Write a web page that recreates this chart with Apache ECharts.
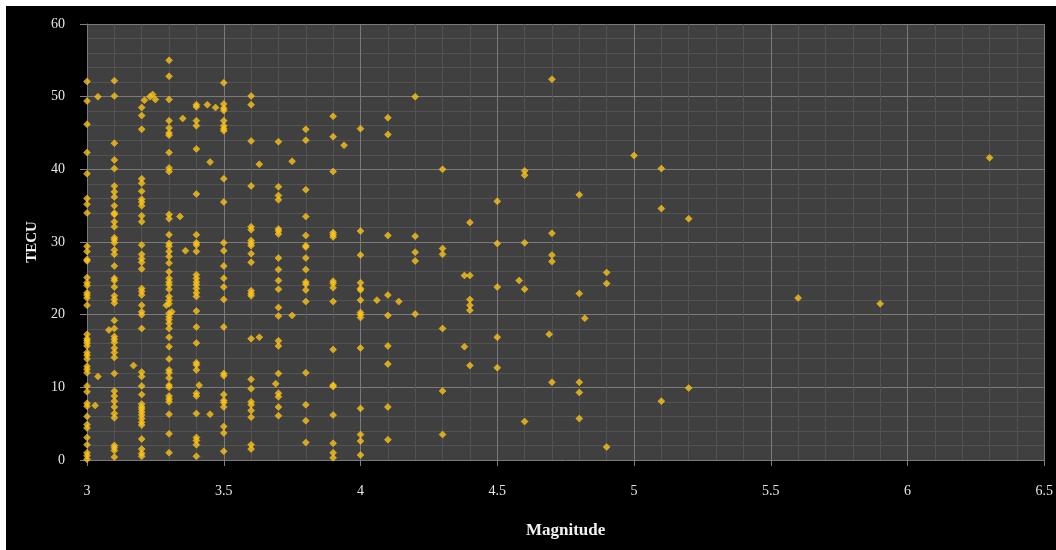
<!DOCTYPE html>
<html>
<head>
<meta charset="utf-8">
<script src="https://cdn.jsdelivr.net/npm/echarts@6/dist/echarts.min.js"></script>
<style>
  html, body { margin: 0; padding: 0; background: #ffffff; overflow: hidden; }
  #chart { position: absolute; left: 6px; top: 6px; width: 1050px; height: 544px; background: #000000; }
</style>
</head>
<body>
<div id="chart"></div>
<script>
// Earthquake magnitude (x) and the matching TEC values (y), grouped by magnitude
const magnitudes = [
  3.0, 3.03, 3.04, 3.08, 3.1, 3.17, 3.2, 3.21, 3.23, 3.24, 3.25, 3.29, 3.3, 3.31,
  3.34, 3.35, 3.36, 3.4, 3.41, 3.44, 3.45, 3.47, 3.5, 3.6, 3.63, 3.69, 3.7, 3.75,
  3.8, 3.9, 3.94, 4.0, 4.06, 4.1, 4.14, 4.2, 4.3, 4.38, 4.4, 4.5, 4.58, 4.6, 4.69,
  4.7, 4.8, 4.82, 4.9, 5.0, 5.1, 5.2, 5.6, 5.9, 6.3
];

const tecuByMagnitude = [
  [52.1, 49.4, 46.2, 42.3, 39.4, 36.0, 35.2, 34.0, 29.4, 28.7, 27.6, 27.4, 25.1, 24.4, 24.0,
   23.0, 22.7, 22.3, 21.3, 17.3, 16.7, 16.4, 16.1, 15.7, 14.8, 14.4, 13.9, 12.9, 12.5, 12.0,
   10.2, 9.4, 7.8, 7.4, 6.0, 4.9, 4.4, 3.1, 2.1, 1.0, 0.6, 0.1],
  [7.5],
  [50.0, 11.5],
  [17.9],
  [52.2, 50.1, 43.6, 41.3, 40.1, 37.7, 36.9, 36.2, 35.0, 34.0, 33.8, 32.8, 32.1, 30.6, 30.3,
   29.9, 28.9, 28.3, 26.7, 25.0, 24.7, 23.8, 22.6, 22.1, 21.6, 19.2, 18.1, 17.0, 16.6, 16.2,
   15.4, 14.8, 14.1, 11.9, 9.5, 8.8, 8.1, 7.3, 6.4, 5.8, 2.0, 1.7, 1.3, 0.4],
  [13.0],
  [48.5, 47.4, 45.5, 38.7, 38.1, 37.0, 35.9, 35.5, 35.0, 33.6, 32.8, 29.6, 28.3, 27.7, 27.2,
   26.3, 23.6, 23.2, 22.7, 21.3, 20.4, 20.0, 18.1, 12.1, 11.5, 10.2, 9.0, 7.7, 7.3, 7.0,
   6.6, 6.2, 5.7, 5.2, 4.8, 2.9, 1.5, 0.9, 0.5],
  [49.5],
  [50.0],
  [50.3],
  [49.6],
  [21.3],
  [55.0, 52.8, 49.6, 46.7, 45.7, 45.0, 44.7, 42.3, 40.2, 39.7, 33.8, 33.2, 31.0, 29.8, 29.4,
   28.7, 28.0, 27.1, 25.9, 25.0, 24.5, 24.1, 23.5, 22.5, 22.0, 21.5, 20.2, 19.7, 19.3, 18.8,
   18.1, 16.9, 15.6, 13.9, 12.4, 12.0, 11.3, 10.3, 10.0, 8.8, 8.4, 8.0, 6.3, 3.6, 1.0],
  [20.4],
  [33.5],
  [47.0],
  [28.8],
  [48.9, 48.6, 46.7, 46.0, 42.8, 36.6, 31.0, 29.9, 29.6, 28.7, 25.5, 25.0, 24.5, 24.1, 23.6,
   23.0, 22.5, 20.5, 18.3, 16.1, 13.4, 13.1, 12.4, 9.2, 8.8, 6.4, 3.1, 2.7, 2.1, 0.5],
  [10.3],
  [48.9],
  [41.0, 6.3],
  [48.5],
  [51.9, 49.0, 48.4, 48.1, 46.7, 46.0, 45.6, 45.3, 38.7, 35.5, 29.9, 28.8, 26.7, 25.0, 23.8,
   22.1, 18.3, 11.9, 11.6, 9.0, 8.2, 7.9, 7.3, 4.6, 3.7, 1.2],
  [50.1, 48.9, 43.9, 37.7, 32.1, 31.7, 30.2, 29.8, 29.5, 28.4, 27.2, 23.3, 22.9, 22.6, 16.7,
   11.1, 9.8, 8.0, 7.6, 6.8, 5.9, 2.1, 1.5],
  [40.7, 16.9],
  [10.5],
  [43.8, 37.6, 36.4, 35.8, 31.8, 31.5, 31.1, 27.8, 26.2, 24.7, 23.5, 21.0, 19.8, 16.4, 15.7,
   11.9, 9.2, 8.7, 7.3, 6.1],
  [41.1, 19.9],
  [45.5, 44.0, 37.2, 33.5, 30.9, 29.5, 29.3, 27.8, 26.2, 24.5, 24.2, 23.4, 21.8, 12.0, 7.6,
   5.4, 2.4],
  [47.3, 44.5, 39.7, 31.3, 31.0, 30.7, 24.6, 24.3, 23.7, 21.8, 15.2, 10.3, 10.1, 6.2, 2.3,
   1.0, 0.3],
  [43.3],
  [45.6, 31.5, 28.2, 24.4, 23.6, 23.4, 22.0, 20.3, 20.0, 19.6, 15.4, 7.1, 3.5, 2.6, 0.7],
  [22.0],
  [47.1, 44.8, 30.9, 22.7, 19.9, 15.7, 13.2, 7.3, 2.8],
  [21.8],
  [50.0, 30.8, 28.6, 27.4, 20.1],
  [40.0, 29.1, 28.3, 18.1, 9.5, 3.5],
  [25.4, 15.6],
  [32.7, 25.4, 22.1, 21.3, 20.6, 13.0],
  [35.6, 29.8, 23.8, 16.9, 12.7],
  [24.7],
  [39.8, 39.2, 29.9, 23.5, 5.3],
  [17.3],
  [52.4, 31.2, 28.2, 27.3, 10.7],
  [36.5, 22.9, 10.7, 9.3, 5.7],
  [19.5],
  [25.8, 24.3, 1.8],
  [41.9],
  [40.1, 34.6, 8.1],
  [33.2, 9.9],
  [22.3],
  [21.5],
  [41.6]
];

const xTitle = 'Magnitude';
const yTitle = 'TECU';

const points = [];
magnitudes.forEach((m, i) => {
  tecuByMagnitude[i].forEach(v => points.push([m, v]));
});

const labelFont = '"Liberation Serif", "Times New Roman", serif';
const chart = echarts.init(document.getElementById('chart'), null, { renderer: 'canvas' });

chart.setOption({
  animation: false,
  backgroundColor: '#000000',
  grid: {
    left: 81, right: 9, top: 18, bottom: 90,
    show: true, backgroundColor: '#404040', borderWidth: 0
  },
  xAxis: {
    type: 'value',
    min: 3, max: 6.5, interval: 0.5,
    name: xTitle,
    nameLocation: 'middle',
    nameGap: 62,
    nameTextStyle: { color: '#f2f2f2', fontFamily: labelFont, fontWeight: 'bold', fontSize: 17 },
    axisLine: { show: false },
    axisTick: { show: true, inside: false, length: 6, lineStyle: { color: '#808080' } },
    axisLabel: { color: '#e6e6e6', fontFamily: labelFont, fontSize: 14, margin: 24 },
    splitLine: { show: true, lineStyle: { color: '#7a7a7a', width: 1 } },
    minorTick: { show: false, splitNumber: 5 },
    minorSplitLine: { show: true, lineStyle: { color: '#535353', width: 1 } }
  },
  yAxis: {
    type: 'value',
    min: 0, max: 60, interval: 10,
    name: yTitle,
    nameLocation: 'middle',
    nameGap: 45,
    nameTextStyle: { color: '#f2f2f2', fontFamily: labelFont, fontWeight: 'bold', fontSize: 15 },
    axisLine: { show: true, lineStyle: { color: '#7a7a7a' } },
    axisTick: { show: true, inside: false, length: 7, lineStyle: { color: '#808080' } },
    axisLabel: { color: '#e6e6e6', fontFamily: labelFont, fontSize: 14, margin: 22 },
    splitLine: { show: true, lineStyle: { color: '#7a7a7a', width: 1 } },
    minorTick: { show: false, splitNumber: 5 },
    minorSplitLine: { show: true, lineStyle: { color: '#535353', width: 1 } }
  },
  series: [{
    type: 'scatter',
    data: points,
    symbol: 'diamond',
    symbolSize: 7,
    itemStyle: { color: '#FFC20E', borderColor: '#FFD23F', borderWidth: 0.5 }
  }]
});
</script>
</body>
</html>
